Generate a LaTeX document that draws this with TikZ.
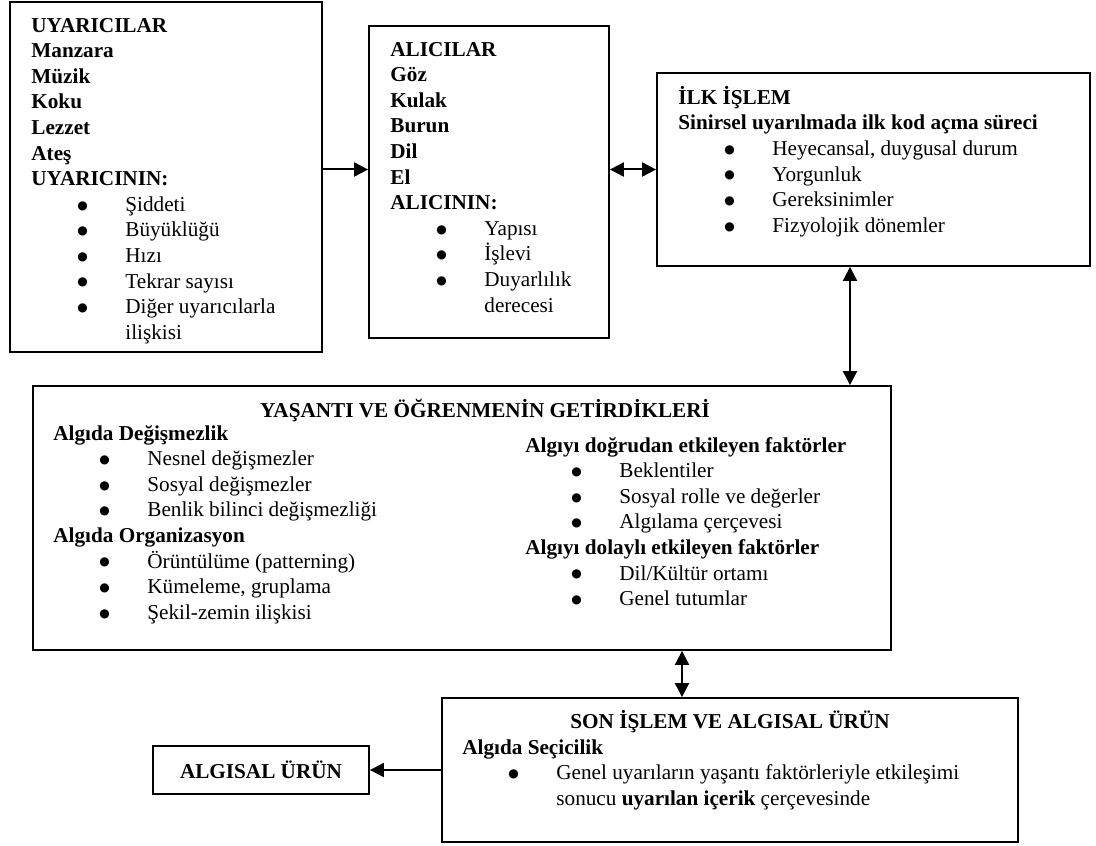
\documentclass[tikz,border=0pt]{standalone}
\usepackage{fontspec}
\setmainfont{Liberation Serif}
\newfontfamily\dotfont{DejaVu Sans}
\usetikzlibrary{positioning, arrows.meta}

% bullet item and its continuation line
\newcommand{\itm}[1]{\hspace*{23pt}\makebox[24pt][l]{\raisebox{1.1pt}{\dotfont\fontsize{6}{6}\selectfont ●}}#1}
\newcommand{\cnt}[1]{\hspace*{47pt}#1}

\tikzset{
    box/.style={draw, line width=0.9pt, inner sep=0pt},
    txt/.style={anchor=north west, align=left, inner sep=0pt},
    tip/.tip={Triangle[length=7pt, width=7pt]},
    arr/.style={line width=1pt, -tip},
    darr/.style={line width=1pt, tip-tip}
}

\begin{document}
\begin{tikzpicture}[x=0.5pt, y=-0.5pt, font=\fontsize{10.6}{12.8}\selectfont]
    \useasboundingbox (0,0) rectangle (1096,845);

    % boxes
    \node[box, minimum width=156pt, minimum height=175pt] (uyar) at (166,177) {};
    \node[box, minimum width=120pt, minimum height=156pt] (alici) at (489,182) {};
    \node[box, minimum width=216.5pt, minimum height=96.5pt] (ilk) at (873.5,169.5) {};
    \node[box, minimum width=429pt, minimum height=132pt] (yas) at (462,518) {};
    \node[box, minimum width=288pt, minimum height=72pt] (son) at (730,770) {};
    \node[box, minimum width=108pt, minimum height=24pt, font=\fontsize{10.6}{12.8}\selectfont\bfseries] (urun) at (261,770) {ALGISAL ÜRÜN};

    % texts
    \node[txt] (uyar-t) at (31,13.8) {\strut\textbf{UYARICILAR}\\
        \textbf{Manzara}\\
        \textbf{Müzik}\\
        \textbf{Koku}\\
        \textbf{Lezzet}\\
        \textbf{Ateş}\\
        \textbf{UYARICININ:}\\
        \itm{Şiddeti}\\
        \itm{Büyüklüğü}\\
        \itm{Hızı}\\
        \itm{Tekrar sayısı}\\
        \itm{Diğer uyarıcılarla}\\
        \cnt{ilişkisi}};
    \node[txt] (alici-t) at (390,37.8) {\strut\textbf{ALICILAR}\\
        \textbf{Göz}\\
        \textbf{Kulak}\\
        \textbf{Burun}\\
        \textbf{Dil}\\
        \textbf{El}\\
        \textbf{ALICININ:}\\
        \itm{Yapısı}\\
        \itm{İşlevi}\\
        \itm{Duyarlılık}\\
        \cnt{derecesi}};
    \node[txt] (ilk-t) at (678,85.8) {\strut\textbf{İLK İŞLEM}\\
        \textbf{Sinirsel uyarılmada ilk kod açma süreci}\\
        \itm{Heyecansal, duygusal durum}\\
        \itm{Yorgunluk}\\
        \itm{Gereksinimler}\\
        \itm{Fizyolojik dönemler}};
    \node[font=\fontsize{10.6}{12.8}\selectfont\bfseries, inner sep=0pt] (yas-h) at (485,410) {YAŞANTI VE ÖĞRENMENİN GETİRDİKLERİ};
    \node[txt] (yas-l) at (53,421.8) {\strut\textbf{Algıda Değişmezlik}\\
        \itm{Nesnel değişmezler}\\
        \itm{Sosyal değişmezler}\\
        \itm{Benlik bilinci değişmezliği}\\
        \textbf{Algıda Organizasyon}\\
        \itm{Örüntülüme (patterning)}\\
        \itm{Kümeleme, gruplama}\\
        \itm{Şekil-zemin ilişkisi}};
    \node[txt] (yas-r) at (525,433.8) {\strut\textbf{Algıyı doğrudan etkileyen faktörler}\\
        \itm{Beklentiler}\\
        \itm{Sosyal rolle ve değerler}\\
        \itm{Algılama çerçevesi}\\
        \textbf{Algıyı dolaylı etkileyen faktörler}\\
        \itm{Dil/Kültür ortamı}\\
        \itm{Genel tutumlar}};
    \node[font=\fontsize{10.6}{12.8}\selectfont\bfseries, inner sep=0pt] (son-h) at (730,722) {SON İŞLEM VE ALGISAL ÜRÜN};
    \node[txt] (son-t) at (462,735.8) {\strut\textbf{Algıda Seçicilik}\\
        \itm{Genel uyarıların yaşantı faktörleriyle etkileşimi}\\
        \cnt{sonucu \textbf{uyarılan içerik} çerçevesinde}};

    % connectors
    \coordinate (j1) at (850,0);
    \coordinate (j2) at (682,0);
    \draw[arr] (uyar.east |- ilk.west) -- (alici.west |- ilk.west);
    \draw[darr] (alici.east |- ilk.west) -- (ilk.west);
    \draw[darr] (ilk.south -| j1) -- (yas.north -| j1);
    \draw[darr] (yas.south -| j2) -- (son.north -| j2);
    \draw[arr] (son.west |- urun.east) -- (urun.east);
\end{tikzpicture}
\end{document}
